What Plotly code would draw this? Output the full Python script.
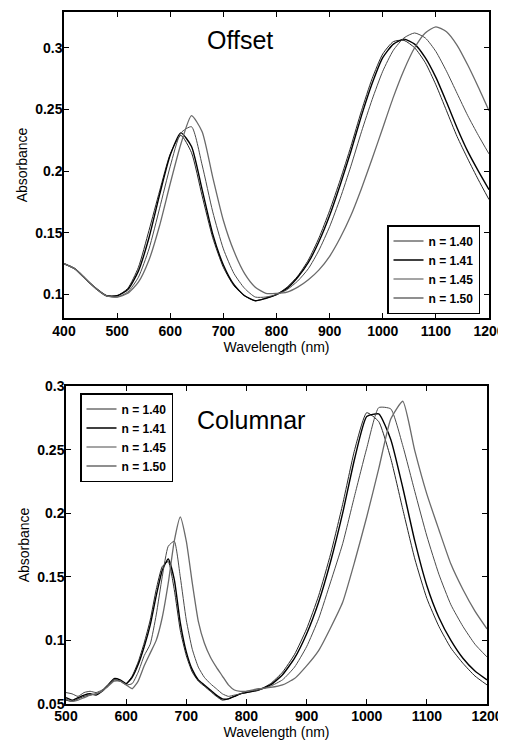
import plotly.graph_objects as go

# ---- Offset panel data (nm, absorbance) ----
wl_offset = [400, 420, 440, 460, 480, 500, 520, 540, 560, 580, 600, 620, 640, 660, 680,
             700, 720, 740, 760, 780, 800, 820, 840, 860, 880, 900, 920, 940, 960, 980,
             1000, 1020, 1040, 1060, 1080, 1100, 1120, 1140, 1160, 1180, 1200]
off_140 = [0.125, 0.121, 0.113, 0.105, 0.099, 0.099, 0.105, 0.122, 0.152, 0.184, 0.214, 0.229,
           0.215, 0.180, 0.146, 0.122, 0.107, 0.099, 0.095, 0.097, 0.100, 0.106, 0.115, 0.128,
           0.146, 0.168, 0.193, 0.220, 0.249, 0.275, 0.295, 0.305, 0.306, 0.300, 0.288, 0.270,
           0.249, 0.228, 0.210, 0.193, 0.177]
off_141 = [0.125, 0.121, 0.113, 0.105, 0.099, 0.099, 0.104, 0.119, 0.146, 0.181, 0.213, 0.231,
           0.220, 0.185, 0.149, 0.124, 0.108, 0.099, 0.095, 0.097, 0.100, 0.105, 0.114, 0.126,
           0.143, 0.164, 0.189, 0.216, 0.245, 0.271, 0.292, 0.303, 0.307, 0.303, 0.292, 0.276,
           0.256, 0.235, 0.216, 0.200, 0.185]
off_145 = [0.125, 0.121, 0.113, 0.105, 0.099, 0.098, 0.102, 0.114, 0.137, 0.170, 0.204, 0.231,
           0.236, 0.205, 0.167, 0.137, 0.117, 0.105, 0.098, 0.098, 0.100, 0.104, 0.111, 0.121,
           0.136, 0.155, 0.178, 0.204, 0.232, 0.258, 0.281, 0.298, 0.308, 0.312, 0.308, 0.297,
           0.281, 0.263, 0.245, 0.229, 0.214]
off_150 = [0.125, 0.121, 0.113, 0.105, 0.099, 0.098, 0.101, 0.110, 0.128, 0.156, 0.190, 0.222,
           0.245, 0.232, 0.195, 0.160, 0.135, 0.117, 0.106, 0.101, 0.101, 0.102, 0.106, 0.112,
           0.120, 0.131, 0.146, 0.164, 0.186, 0.210, 0.235, 0.260, 0.282, 0.300, 0.312, 0.317,
           0.313, 0.302, 0.286, 0.268, 0.249]

# ---- Columnar panel data ----
wl_col = [500, 510, 520, 530, 540, 550, 560, 570, 580, 590, 600, 610, 620, 630, 640, 650,
          660, 670, 680, 690, 700, 710, 720, 730, 740, 750, 760, 770, 780, 790, 800, 820,
          840, 860, 880, 900, 920, 940, 960, 980, 1000, 1020, 1040, 1060, 1080, 1100, 1120,
          1140, 1160, 1180, 1200]
col_140 = [0.053, 0.052, 0.054, 0.056, 0.057, 0.058, 0.060, 0.064, 0.069, 0.068, 0.066, 0.072,
           0.083, 0.098, 0.116, 0.140, 0.158, 0.162, 0.140, 0.108, 0.088, 0.075, 0.068, 0.064,
           0.060, 0.056, 0.053, 0.054, 0.056, 0.058, 0.059, 0.061, 0.066, 0.075, 0.089, 0.109,
           0.135, 0.168, 0.207, 0.250, 0.279, 0.272, 0.243, 0.203, 0.164, 0.133, 0.111, 0.094,
           0.082, 0.072, 0.065]
col_141 = [0.055, 0.053, 0.055, 0.057, 0.058, 0.057, 0.060, 0.065, 0.070, 0.069, 0.066, 0.071,
           0.081, 0.095, 0.112, 0.135, 0.155, 0.164, 0.148, 0.114, 0.091, 0.077, 0.069, 0.065,
           0.061, 0.057, 0.054, 0.054, 0.056, 0.058, 0.059, 0.061, 0.065, 0.073, 0.086, 0.105,
           0.130, 0.162, 0.200, 0.243, 0.276, 0.278, 0.258, 0.220, 0.178, 0.143, 0.118, 0.100,
           0.086, 0.076, 0.069]
col_145 = [0.059, 0.058, 0.056, 0.059, 0.060, 0.059, 0.061, 0.065, 0.069, 0.068, 0.065, 0.066,
           0.075, 0.088, 0.097, 0.120, 0.150, 0.174, 0.178, 0.150, 0.116, 0.093, 0.079, 0.071,
           0.066, 0.062, 0.058, 0.056, 0.057, 0.058, 0.060, 0.061, 0.064, 0.069, 0.079, 0.095,
           0.117, 0.146, 0.176, 0.214, 0.251, 0.283, 0.282, 0.253, 0.217, 0.182, 0.152, 0.128,
           0.111, 0.097, 0.087]
col_150 = [0.054, 0.052, 0.053, 0.055, 0.057, 0.058, 0.060, 0.064, 0.068, 0.068, 0.065, 0.062,
           0.068, 0.080, 0.090, 0.100, 0.118, 0.145, 0.178, 0.197, 0.178, 0.145, 0.115, 0.098,
           0.087, 0.079, 0.072, 0.065, 0.061, 0.060, 0.060, 0.062, 0.063, 0.065, 0.070, 0.080,
           0.092, 0.110, 0.130, 0.162, 0.197, 0.235, 0.274, 0.288, 0.249, 0.215, 0.187, 0.160,
           0.140, 0.123, 0.109]

labels = ["n = 1.40", "n = 1.41", "n = 1.45", "n = 1.50"]
colors = ["#262626", "#000000", "#4a4a4a", "#6a6a6a"]
widths = [1.0, 1.4, 1.0, 1.3]

fig = go.Figure()
for lab, ys, c, w in zip(labels, [off_140, off_141, off_145, off_150], colors, widths):
    fig.add_trace(go.Scatter(x=wl_offset, y=ys, mode="lines", name=lab,
                             line=dict(color=c, width=w, shape="spline", smoothing=0.6),
                             xaxis="x", yaxis="y", legend="legend"))
for lab, ys, c, w in zip(labels, [col_140, col_141, col_145, col_150], colors, widths):
    fig.add_trace(go.Scatter(x=wl_col, y=ys, mode="lines", name=lab,
                             line=dict(color=c, width=w, shape="spline", smoothing=0.5),
                             xaxis="x2", yaxis="y2", legend="legend2"))

W, H = 506, 740
PAD = 8  # the page body margin shifts the figure by 8px


def fx(px):
    return (px - PAD) / W


def fy(py):
    return 1 - (py - PAD) / H


tickfont = dict(family="Liberation Sans", size=14, color="black", weight="bold")
ytitlefont = dict(family="Liberation Sans", size=14, color="black")
xtitlefont = dict(family="Liberation Sans", size=14, color="black")
legfont = dict(family="Liberation Sans", size=12, color="black", weight="bold")
axis_common = dict(showline=True, linecolor="black", linewidth=1.5, mirror="ticks",
                   ticks="inside", ticklen=5, tickcolor="black", showgrid=False,
                   zeroline=False, tickfont=tickfont, automargin=False)

fig.update_layout(
    width=W, height=H, paper_bgcolor="white", plot_bgcolor="white",
    margin=dict(l=0, r=0, t=0, b=0), showlegend=True,
    xaxis=dict(axis_common, domain=[fx(64), fx(489)], anchor="y", range=[400, 1200],
               dtick=100, tick0=400, ticklabelstandoff=-1,
               title=dict(text="Wavelength (nm)", font=xtitlefont, standoff=0)),
    yaxis=dict(axis_common, domain=[fy(318), fy(12)], anchor="x", range=[0.081, 0.329],
               tickvals=[0.1, 0.15, 0.2, 0.25, 0.3], ticktext=["0.1", "0.15", "0.2", "0.25", "0.3"],
               ticklabelstandoff=-3,
               title=dict(text="Absorbance", font=ytitlefont, standoff=4)),
    xaxis2=dict(axis_common, domain=[fx(66), fx(487)], anchor="y2", range=[500, 1200],
                dtick=100, tick0=500, ticklabelstandoff=-2,
                title=dict(text="Wavelength (nm)", font=xtitlefont, standoff=0)),
    yaxis2=dict(axis_common, domain=[fy(704), fy(386)], anchor="x2", range=[0.05, 0.30],
                tickvals=[0.05, 0.1, 0.15, 0.2, 0.25, 0.3],
                ticktext=["0.05", "0.1", "0.15", "0.2", "0.25", "0.3"],
                ticklabelstandoff=-3,
                title=dict(text="Absorbance", font=ytitlefont, standoff=4)),
    legend=dict(x=fx(480), y=fy(225), xanchor="right", yanchor="top",
                bgcolor="white", bordercolor="black", borderwidth=1.5, font=legfont,
                tracegroupgap=0, itemwidth=30),
    legend2=dict(x=fx(80), y=fy(393), xanchor="left", yanchor="top",
                 bgcolor="white", bordercolor="black", borderwidth=1.5, font=legfont,
                 tracegroupgap=0, itemwidth=30),
    annotations=[
        dict(text="Offset", x=fx(240), y=fy(40), xref="paper", yref="paper",
             xanchor="center", yanchor="middle", showarrow=False,
             font=dict(family="Liberation Sans", size=25, color="black")),
        dict(text="Columnar", x=fx(251), y=fy(420), xref="paper", yref="paper",
             xanchor="center", yanchor="middle", showarrow=False,
             font=dict(family="Liberation Sans", size=25, color="black")),
    ],
)

fig.write_html("out.html")
